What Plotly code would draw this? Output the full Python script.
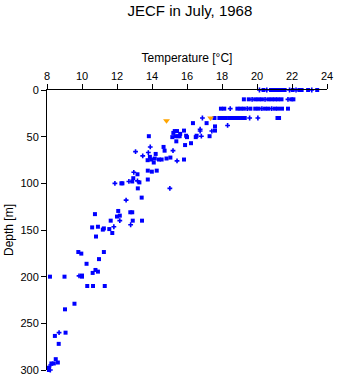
import plotly.graph_objects as go

# Surface / bottle rows (temperature, depth)
sq_temp = [
    20.37, 20.8, 21.02, 21.2, 21.43, 21.58, 22.04, 22.42, 22.55, 22.92, 23.44,
    19.25, 19.53, 19.9, 20.09, 20.28, 20.65, 20.84, 21.02, 21.2, 21.4, 21.96, 22.08,
    17.94, 18.13, 18.88, 19.06, 19.25, 19.62, 19.9, 20.09, 20.46, 20.65, 21.02, 21.2, 21.43, 21.77,
    17.57, 17.85, 18.04, 18.22, 18.41, 18.6, 18.78, 18.97, 19.16, 19.3, 21.17, 21.26,
    17.12, 16.34, 17.6, 17.6, 15.83, 15.3, 15.43, 15.61, 15.22, 15.16, 15.35, 15.5, 15.58,
    15.95, 16.0, 16.55, 16.5, 17.29, 16.23, 15.89, 15.39, 13.82, 14.66, 14.72, 14.21,
    13.88, 14.16, 13.75, 13.95, 14.4, 14.55, 14.83, 15.05, 15.83, 14.1, 13.76, 13.99,
    14.27, 13.17, 12.93, 12.87, 13.28, 12.25, 12.31, 13.76, 13.19, 13.41, 12.07, 12.76,
    12.87, 12.16, 12.0, 10.74, 11.64, 12.9, 13.43, 10.58, 10.91, 11.25, 11.19, 11.56,
    11.73, 10.8, 9.79, 9.96, 11.25, 10.97, 10.26, 10.77, 10.91, 10.61, 10.0, 10.0, 9.0,
    8.17, 10.3, 10.63, 11.3, 9.57, 9.03, 8.67, 8.45, 9.06, 8.5, 8.62, 8.25, 8.39, 8.11, 8.11,
]
sq_depth = [
    0, 0, 0, 0, 0, 0, 0, 0, 0, 0, 0,
    10, 10, 10, 10, 10, 10, 10, 10, 10, 10, 10, 10,
    20, 20, 20, 20, 20, 20, 20, 20, 20, 20, 20, 20, 20, 20,
    30, 30, 30, 30, 30, 30, 30, 30, 30, 30, 30, 30,
    35.5, 35.5, 39, 43.5, 43.5, 44, 44, 47, 46, 50.5, 49.5, 49.5, 49.5,
    49, 50.5, 49, 50.5, 49.5, 57, 59, 55, 49.5, 61, 65, 68.5,
    71.6, 73.4, 75.2, 74.5, 74.5, 74.5, 73.4, 72.4, 74.5, 77.7, 86.4, 87.5,
    86.4, 90.3, 94.5, 98, 99, 100, 100, 95.9, 105.4, 115.3, 129.6, 131,
    131, 134.6, 135.6, 133, 140, 140, 140, 147.2, 146.5, 148.3, 149.6, 149,
    153.2, 157, 173.6, 175.3, 173.6, 181.2, 186.2, 192.8, 194.6, 196, 198.8, 200, 200,
    200, 210, 210, 210, 229, 235, 272, 263.5, 260, 288.4, 292, 293, 293, 297.6, 300,
]

cr_temp = [
    20.14, 20.56, 21.86, 22.23, 23.13,
    19.72, 20.46, 21.77,
    18.47, 19.44, 20.28, 20.84,
    16.88, 19.58, 20.05,
    18.32, 16.75, 16.75, 17.42, 16.82, 13.9, 15.2, 13.06, 13.79, 13.47, 15.43,
    12.96, 12.68, 13.17, 11.88, 15.02, 12.52, 12.16, 12.78, 11.82, 9.83, 8.69, 8.21, 8.19,
]
cr_depth = [
    0, 0, 0, 0, 0,
    10, 10, 10,
    20, 20, 20, 20,
    30, 30, 30,
    38, 42, 44, 44, 49.5, 61, 65, 66, 67, 70.6, 75.9,
    88.2, 98, 97.4, 100, 105.4, 118, 140, 144.4, 146.5, 199.2, 260, 294.7, 300,
]

or_temp = [17.35, 14.83]
or_depth = [30, 33]

x_ticks = [8, 10, 12, 14, 16, 18, 20, 22, 24]
y_ticks = [0, 50, 100, 150, 200, 250, 300]

fig = go.Figure()
fig.add_trace(go.Scatter(x=sq_temp, y=sq_depth, mode="markers", cliponaxis=False,
                         marker=dict(symbol="square", size=4, color="#0000ff", line=dict(width=0))))
fig.add_trace(go.Scatter(x=cr_temp, y=cr_depth, mode="markers", cliponaxis=False,
                         marker=dict(symbol="cross", size=4, color="#0000ff", line=dict(width=0))))
fig.add_trace(go.Scatter(x=or_temp, y=or_depth, mode="markers", cliponaxis=False,
                         marker=dict(symbol="triangle-down", size=6, color="#ffa500", line=dict(width=0))))

fig.update_layout(
    width=341, height=384,
    margin=dict(l=47, r=8, t=90, b=9),
    paper_bgcolor="white", plot_bgcolor="white",
    showlegend=False,
    font=dict(family="Liberation Sans, Arial, sans-serif", color="black", size=11),
    title=dict(text="JECF in July, 1968", x=0.557, xanchor="center", y=0.985, yanchor="top",
               font=dict(size=15, color="black")),
)
fig.update_xaxes(
    side="top", range=[8, 24], tickvals=x_ticks, ticktext=[str(v) for v in x_ticks],
    ticks="outside", ticklen=5, tickwidth=1, tickcolor="black",
    showline=True, linecolor="black", linewidth=1, showgrid=False, zeroline=False,
    title=dict(text="Temperature [°C]", font=dict(size=12), standoff=4),
    tickfont=dict(size=11),
)
fig.update_yaxes(
    range=[300, 0], tickvals=y_ticks, ticktext=[str(v) for v in y_ticks],
    ticks="outside", ticklen=5, tickwidth=1, tickcolor="black",
    showline=True, linecolor="black", linewidth=1, showgrid=False, zeroline=False,
    title=dict(text="Depth [m]", font=dict(size=12), standoff=4),
    tickfont=dict(size=11),
)

fig.write_html("out.html")
